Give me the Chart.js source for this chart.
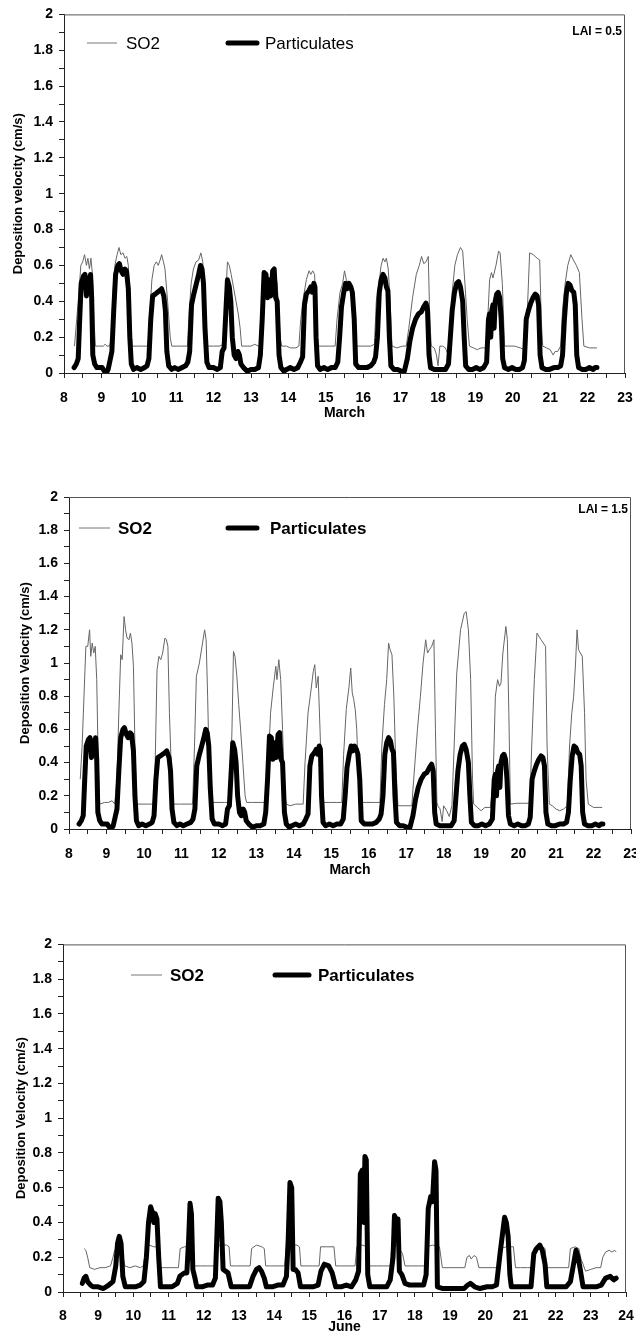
<!DOCTYPE html>
<html>
<head>
<meta charset="utf-8">
<script src="https://cdn.jsdelivr.net/npm/chart.js@4.4.1/dist/chart.umd.min.js"></script>
<style>
  html, body { margin: 0; padding: 0; background: #fff; overflow: hidden; }
  #page { position: relative; width: 636px; height: 1342px; }
  canvas { position: absolute; left: 0; }
</style>
</head>
<body>
<div id="page">
  <canvas id="marchLow" width="636" height="430" style="top:0px"></canvas>
  <canvas id="marchHigh" width="636" height="420" style="top:480px"></canvas>
  <canvas id="june" width="636" height="412" style="top:930px"></canvas>
</div>
<script>
// data: [day, deposition velocity cm/s]
const marchParticulates = [
  [8.27,0.03],[8.33,0.05],[8.38,0.08],[8.42,0.3],[8.46,0.5],[8.52,0.54],[8.56,0.55],[8.6,0.43],[8.64,0.53],[8.68,0.45],
  [8.71,0.55],[8.74,0.42],[8.77,0.1],[8.82,0.05],[8.88,0.03],[8.95,0.03],[9.02,0.03],[9.08,0.01],[9.13,0],[9.18,0.02],
  [9.24,0.08],[9.28,0.12],[9.33,0.35],[9.38,0.55],[9.44,0.6],[9.48,0.61],[9.53,0.57],[9.58,0.55],[9.63,0.58],[9.67,0.57],
  [9.72,0.47],[9.76,0.2],[9.8,0.05],[9.86,0.02],[9.95,0.03],[10.05,0.02],[10.15,0.03],[10.22,0.04],[10.27,0.08],[10.32,0.3],
  [10.37,0.43],[10.44,0.44],[10.5,0.45],[10.56,0.46],[10.61,0.47],[10.67,0.43],[10.71,0.35],[10.75,0.12],[10.8,0.04],[10.88,0.02],
  [10.96,0.03],[11.05,0.02],[11.15,0.03],[11.25,0.04],[11.31,0.06],[11.36,0.12],[11.41,0.38],[11.47,0.44],[11.53,0.49],[11.6,0.55],
  [11.65,0.6],[11.69,0.58],[11.73,0.5],[11.77,0.25],[11.82,0.06],[11.88,0.03],[12,0.03],[12.1,0.02],[12.18,0.03],[12.23,0.12],
  [12.28,0.14],[12.33,0.35],[12.37,0.52],[12.42,0.48],[12.46,0.4],[12.5,0.2],[12.55,0.1],[12.6,0.08],[12.65,0.12],[12.69,0.1],
  [12.73,0.05],[12.8,0.03],[12.9,0.01],[13,0.02],[13.1,0.02],[13.2,0.03],[13.25,0.1],[13.3,0.3],[13.35,0.56],[13.4,0.55],
  [13.44,0.42],[13.48,0.52],[13.53,0.43],[13.58,0.57],[13.62,0.58],[13.66,0.42],[13.7,0.4],[13.75,0.1],[13.8,0.03],[13.88,0.01],
  [13.95,0.02],[14.05,0.03],[14.15,0.02],[14.25,0.03],[14.32,0.06],[14.38,0.09],[14.43,0.38],[14.48,0.44],[14.55,0.46],[14.6,0.48],
  [14.64,0.45],[14.68,0.5],[14.71,0.48],[14.74,0.2],[14.78,0.04],[14.85,0.02],[14.95,0.03],[15.05,0.02],[15.15,0.03],[15.25,0.03],
  [15.32,0.06],[15.37,0.2],[15.42,0.37],[15.48,0.45],[15.53,0.5],[15.57,0.47],[15.62,0.5],[15.67,0.48],[15.71,0.45],[15.76,0.3],
  [15.8,0.05],[15.88,0.03],[16,0.03],[16.1,0.03],[16.2,0.04],[16.28,0.06],[16.33,0.09],[16.38,0.2],[16.43,0.45],[16.48,0.52],
  [16.53,0.55],[16.58,0.53],[16.62,0.48],[16.66,0.46],[16.7,0.2],[16.74,0.04],[16.82,0.02],[16.92,0.02],[17.02,0.01],[17.1,0.01],
  [17.18,0.08],[17.25,0.18],[17.32,0.25],[17.4,0.3],[17.48,0.33],[17.55,0.34],[17.62,0.37],[17.68,0.39],[17.72,0.35],[17.76,0.1],
  [17.8,0.03],[17.9,0.02],[18,0.02],[18.1,0.02],[18.2,0.02],[18.28,0.05],[18.33,0.2],[18.38,0.35],[18.44,0.45],[18.5,0.5],
  [18.55,0.51],[18.6,0.48],[18.66,0.4],[18.7,0.2],[18.74,0.04],[18.82,0.02],[18.92,0.02],[19.02,0.03],[19.12,0.02],[19.22,0.03],
  [19.3,0.06],[19.35,0.3],[19.38,0.33],[19.41,0.2],[19.44,0.35],[19.47,0.38],[19.5,0.25],[19.53,0.4],[19.57,0.44],[19.61,0.45],
  [19.65,0.42],[19.69,0.3],[19.73,0.08],[19.78,0.03],[19.88,0.02],[19.98,0.03],[20.08,0.02],[20.18,0.02],[20.26,0.03],[20.31,0.07],
  [20.36,0.3],[20.42,0.35],[20.48,0.39],[20.54,0.42],[20.6,0.44],[20.65,0.43],[20.69,0.38],[20.73,0.1],[20.78,0.03],[20.88,0.02],
  [20.98,0.02],[21.1,0.03],[21.2,0.03],[21.28,0.04],[21.33,0.1],[21.38,0.3],[21.43,0.44],[21.48,0.5],[21.53,0.49],[21.58,0.46],
  [21.63,0.45],[21.67,0.38],[21.71,0.1],[21.76,0.03],[21.85,0.02],[21.95,0.02],[22.05,0.03],[22.15,0.02],[22.2,0.03],[22.25,0.03]
];

const marchSo2Lai05 = [
  [8.28,0.15],[8.34,0.3],[8.4,0.45],[8.45,0.6],[8.5,0.62],[8.55,0.66],[8.6,0.6],[8.64,0.64],[8.68,0.58],[8.72,0.64],
  [8.76,0.55],[8.8,0.3],[8.84,0.15],[8.95,0.15],[9.05,0.15],[9.1,0.16],[9.15,0.15],[9.22,0.15],[9.27,0.2],[9.31,0.45],
  [9.36,0.6],[9.42,0.66],[9.47,0.7],[9.52,0.66],[9.58,0.67],[9.63,0.64],[9.68,0.65],[9.72,0.6],[9.77,0.35],[9.82,0.15],
  [9.95,0.15],[10.1,0.15],[10.25,0.15],[10.3,0.35],[10.35,0.52],[10.41,0.6],[10.47,0.62],[10.52,0.6],[10.57,0.63],[10.61,0.66],
  [10.66,0.62],[10.7,0.58],[10.77,0.4],[10.84,0.2],[10.88,0.15],[11,0.15],[11.15,0.15],[11.3,0.15],[11.35,0.35],[11.4,0.5],
  [11.46,0.58],[11.53,0.62],[11.6,0.63],[11.66,0.67],[11.71,0.62],[11.75,0.5],[11.8,0.2],[11.84,0.15],[12,0.15],[12.15,0.15],
  [12.28,0.16],[12.33,0.45],[12.37,0.62],[12.42,0.6],[12.47,0.55],[12.53,0.48],[12.6,0.4],[12.66,0.33],[12.71,0.25],[12.75,0.15],
  [12.9,0.15],[13,0.15],[13.1,0.16],[13.2,0.15],[13.28,0.16],[13.33,0.45],[13.38,0.57],[13.5,0.5],[13.62,0.57],[13.7,0.5],
  [13.78,0.2],[13.82,0.15],[13.95,0.15],[14.05,0.14],[14.2,0.14],[14.28,0.15],[14.33,0.3],[14.4,0.42],[14.48,0.52],[14.55,0.57],
  [14.6,0.55],[14.65,0.57],[14.7,0.55],[14.74,0.35],[14.78,0.15],[14.9,0.15],[15.1,0.15],[15.25,0.15],[15.3,0.3],[15.38,0.45],
  [15.45,0.5],[15.5,0.57],[15.55,0.52],[15.6,0.5],[15.66,0.5],[15.72,0.45],[15.76,0.25],[15.8,0.15],[16,0.15],[16.2,0.15],
  [16.3,0.16],[16.35,0.4],[16.42,0.5],[16.48,0.6],[16.53,0.64],[16.58,0.62],[16.62,0.64],[16.67,0.58],[16.72,0.4],[16.77,0.15],
  [16.9,0.14],[17.05,0.15],[17.15,0.15],[17.22,0.25],[17.32,0.42],[17.42,0.55],[17.5,0.6],[17.56,0.65],[17.62,0.61],[17.68,0.62],
  [17.74,0.65],[17.78,0.3],[17.82,0.15],[17.9,0.14],[17.96,0.1],[18,0.04],[18.05,0.15],[18.12,0.15],[18.2,0.14],[18.27,0.1],
  [18.32,0.15],[18.38,0.45],[18.45,0.6],[18.52,0.66],[18.6,0.7],[18.66,0.68],[18.72,0.5],[18.78,0.3],[18.84,0.15],[18.95,0.14],
  [19.05,0.13],[19.15,0.14],[19.28,0.14],[19.33,0.3],[19.38,0.52],[19.43,0.56],[19.47,0.53],[19.55,0.6],[19.62,0.68],[19.66,0.67],
  [19.72,0.5],[19.78,0.15],[19.9,0.15],[20.05,0.15],[20.2,0.14],[20.3,0.13],[20.38,0.3],[20.45,0.67],[20.55,0.66],[20.65,0.64],
  [20.72,0.63],[20.76,0.3],[20.8,0.15],[20.9,0.14],[21,0.13],[21.08,0.1],[21.13,0.12],[21.2,0.12],[21.28,0.15],[21.33,0.35],
  [21.4,0.5],[21.47,0.6],[21.55,0.66],[21.62,0.63],[21.7,0.6],[21.78,0.56],[21.85,0.3],[21.9,0.15],[22.05,0.14],[22.25,0.14]
];

const marchSo2Lai15 = [
  [8.3,0.3],[8.35,0.5],[8.4,0.8],[8.45,1.1],[8.5,1.1],[8.55,1.2],[8.58,1.04],[8.62,1.12],[8.66,1.06],[8.7,1.1],
  [8.74,0.9],[8.78,0.4],[8.82,0.15],[8.95,0.16],[9.05,0.16],[9.15,0.17],[9.22,0.15],[9.28,0.3],[9.33,0.7],[9.38,1.05],
  [9.42,1.02],[9.47,1.28],[9.51,1.2],[9.55,1.15],[9.6,1.14],[9.64,1.18],[9.68,1.12],[9.72,0.98],[9.76,0.5],[9.8,0.15],
  [9.95,0.15],[10.1,0.15],[10.25,0.15],[10.3,0.4],[10.35,0.96],[10.4,1.04],[10.45,1.02],[10.5,1.06],[10.56,1.15],[10.6,1.14],
  [10.64,1.1],[10.68,0.7],[10.74,0.3],[10.78,0.15],[10.95,0.15],[11.15,0.15],[11.3,0.15],[11.35,0.5],[11.4,0.92],[11.48,1],
  [11.55,1.1],[11.62,1.2],[11.66,1.14],[11.7,0.8],[11.75,0.3],[11.79,0.16],[11.95,0.16],[12.15,0.16],[12.3,0.16],[12.35,0.6],
  [12.39,1.07],[12.43,1.04],[12.48,0.92],[12.53,0.75],[12.58,0.6],[12.64,0.4],[12.7,0.2],[12.74,0.16],[12.9,0.16],[13.1,0.16],
  [13.27,0.16],[13.32,0.4],[13.38,0.7],[13.45,0.85],[13.52,0.98],[13.55,0.9],[13.6,1.02],[13.65,0.9],[13.7,0.6],[13.76,0.2],
  [13.8,0.15],[13.9,0.14],[14.05,0.15],[14.25,0.15],[14.3,0.4],[14.38,0.7],[14.45,0.82],[14.52,0.95],[14.56,0.99],[14.6,0.85],
  [14.65,0.92],[14.7,0.6],[14.74,0.3],[14.78,0.16],[14.95,0.16],[15.15,0.16],[15.28,0.16],[15.33,0.45],[15.4,0.72],[15.47,0.85],
  [15.52,0.97],[15.56,0.82],[15.6,0.78],[15.64,0.72],[15.68,0.6],[15.73,0.3],[15.78,0.16],[15.95,0.16],[16.15,0.16],[16.3,0.16],
  [16.35,0.5],[16.42,0.75],[16.48,0.9],[16.53,1.12],[16.57,1.08],[16.62,1.05],[16.67,0.8],[16.72,0.4],[16.78,0.14],[16.95,0.14],
  [17.15,0.14],[17.2,0.3],[17.3,0.6],[17.38,0.8],[17.45,1],[17.52,1.14],[17.57,1.06],[17.62,1.08],[17.68,1.1],[17.74,1.14],
  [17.78,0.6],[17.82,0.16],[17.86,0.13],[17.9,0.125],[17.96,0.045],[18,0.14],[18.08,0.11],[18.15,0.075],[18.22,0.14],[18.28,0.5],
  [18.35,0.94],[18.45,1.2],[18.55,1.3],[18.6,1.31],[18.66,1.2],[18.72,0.9],[18.77,0.3],[18.8,0.15],[18.9,0.13],[19,0.11],
  [19.1,0.13],[19.25,0.13],[19.32,0.3],[19.38,0.8],[19.44,0.9],[19.49,0.86],[19.53,0.88],[19.58,1.06],[19.66,1.22],[19.7,1.14],
  [19.74,0.7],[19.78,0.15],[19.95,0.155],[20.15,0.155],[20.3,0.155],[20.35,0.5],[20.42,0.9],[20.49,1.18],[20.6,1.14],[20.72,1.1],
  [20.76,0.5],[20.82,0.15],[20.9,0.14],[21,0.12],[21.1,0.11],[21.2,0.12],[21.3,0.14],[21.36,0.5],[21.42,0.7],[21.47,0.8],
  [21.52,1],[21.56,1.2],[21.6,1.08],[21.7,1.04],[21.76,0.7],[21.8,0.3],[21.86,0.15],[22,0.13],[22.15,0.13],[22.23,0.13]
];

const juneParticulates = [
  [8.55,0.05],[8.6,0.08],[8.65,0.09],[8.7,0.06],[8.78,0.04],[8.85,0.03],[9,0.03],[9.15,0.02],[9.3,0.04],[9.42,0.06],
  [9.5,0.15],[9.55,0.28],[9.6,0.32],[9.65,0.28],[9.7,0.09],[9.77,0.03],[9.9,0.03],[10.05,0.03],[10.2,0.04],[10.3,0.06],
  [10.37,0.2],[10.43,0.4],[10.49,0.49],[10.54,0.46],[10.58,0.4],[10.62,0.45],[10.67,0.42],[10.72,0.2],[10.77,0.03],[10.9,0.03],
  [11.1,0.03],[11.25,0.05],[11.32,0.09],[11.45,0.11],[11.52,0.11],[11.57,0.3],[11.61,0.51],[11.65,0.45],[11.69,0.13],[11.75,0.08],
  [11.8,0.03],[11.95,0.03],[12.1,0.04],[12.25,0.04],[12.33,0.08],[12.37,0.3],[12.41,0.54],[12.46,0.52],[12.5,0.4],[12.55,0.13],
  [12.62,0.12],[12.69,0.11],[12.78,0.03],[12.9,0.03],[13.1,0.03],[13.3,0.03],[13.4,0.09],[13.5,0.13],[13.57,0.14],[13.64,0.12],
  [13.72,0.08],[13.78,0.03],[13.95,0.03],[14.1,0.04],[14.25,0.04],[14.35,0.09],[14.4,0.3],[14.45,0.63],[14.5,0.6],[14.54,0.13],
  [14.6,0.13],[14.68,0.11],[14.75,0.03],[14.9,0.03],[15.1,0.03],[15.25,0.04],[15.33,0.12],[15.43,0.16],[15.55,0.15],[15.65,0.11],
  [15.75,0.03],[15.9,0.03],[16.05,0.04],[16.2,0.03],[16.32,0.07],[16.4,0.12],[16.45,0.68],[16.5,0.7],[16.55,0.4],[16.58,0.78],
  [16.62,0.76],[16.66,0.1],[16.72,0.03],[16.85,0.03],[17.05,0.03],[17.2,0.03],[17.3,0.07],[17.38,0.2],[17.42,0.44],[17.47,0.42],
  [17.52,0.42],[17.56,0.12],[17.63,0.1],[17.72,0.05],[17.85,0.04],[18.05,0.04],[18.25,0.04],[18.32,0.1],[18.38,0.48],[18.45,0.55],
  [18.5,0.52],[18.56,0.75],[18.6,0.7],[18.64,0.03],[18.8,0.02],[19,0.02],[19.2,0.02],[19.4,0.02],[19.5,0.04],[19.58,0.05],
  [19.7,0.03],[19.85,0.02],[20.05,0.03],[20.2,0.03],[20.32,0.04],[20.42,0.22],[20.5,0.35],[20.55,0.43],[20.6,0.4],[20.65,0.32],
  [20.7,0.1],[20.74,0.03],[20.9,0.03],[21.1,0.03],[21.3,0.03],[21.38,0.22],[21.46,0.25],[21.55,0.27],[21.62,0.24],[21.7,0.16],
  [21.75,0.03],[21.9,0.03],[22.1,0.03],[22.3,0.03],[22.42,0.06],[22.5,0.15],[22.58,0.24],[22.64,0.2],[22.7,0.13],[22.78,0.03],
  [22.95,0.03],[23.15,0.03],[23.3,0.04],[23.42,0.08],[23.55,0.09],[23.65,0.07],[23.72,0.08]
];

const juneSo2 = [
  [8.6,0.25],[8.65,0.24],[8.7,0.2],[8.76,0.14],[8.9,0.13],[9.05,0.14],[9.2,0.14],[9.35,0.15],[9.42,0.2],[9.47,0.24],
  [9.55,0.23],[9.68,0.22],[9.76,0.15],[9.9,0.14],[10.05,0.15],[10.2,0.14],[10.28,0.15],[10.35,0.24],[10.45,0.27],[10.58,0.26],
  [10.68,0.26],[10.75,0.14],[10.9,0.14],[11.1,0.14],[11.28,0.14],[11.33,0.25],[11.45,0.26],[11.6,0.26],[11.68,0.26],[11.72,0.15],
  [11.9,0.15],[12.1,0.15],[12.3,0.15],[12.35,0.26],[12.5,0.27],[12.65,0.27],[12.72,0.26],[12.76,0.15],[12.9,0.15],[13.1,0.15],
  [13.32,0.15],[13.36,0.25],[13.5,0.27],[13.65,0.26],[13.72,0.25],[13.76,0.15],[13.9,0.15],[14.1,0.15],[14.3,0.15],[14.35,0.26],
  [14.5,0.27],[14.65,0.27],[14.72,0.26],[14.76,0.15],[14.9,0.15],[15.1,0.15],[15.28,0.15],[15.32,0.26],[15.5,0.26],[15.7,0.26],
  [15.75,0.15],[15.9,0.15],[16.1,0.15],[16.3,0.15],[16.35,0.26],[16.5,0.27],[16.65,0.26],[16.7,0.15],[16.9,0.15],[17.1,0.15],
  [17.3,0.15],[17.34,0.26],[17.5,0.27],[17.65,0.22],[17.72,0.15],[17.9,0.15],[18.1,0.15],[18.3,0.15],[18.34,0.26],[18.5,0.27],
  [18.7,0.26],[18.78,0.14],[19,0.14],[19.2,0.14],[19.42,0.14],[19.48,0.2],[19.55,0.21],[19.6,0.19],[19.68,0.21],[19.75,0.2],
  [19.82,0.14],[20,0.14],[20.2,0.14],[20.38,0.14],[20.42,0.25],[20.6,0.26],[20.8,0.26],[20.86,0.14],[21,0.14],[21.2,0.14],
  [21.34,0.14],[21.38,0.25],[21.55,0.27],[21.7,0.25],[21.75,0.14],[21.95,0.14],[22.15,0.14],[22.37,0.14],[22.42,0.25],[22.55,0.26],
  [22.66,0.25],[22.72,0.19],[22.78,0.16],[22.85,0.12],[23,0.13],[23.15,0.14],[23.28,0.14],[23.34,0.2],[23.42,0.23],[23.52,0.24],
  [23.6,0.23],[23.68,0.24],[23.72,0.23]
];

const seriesLabels = ['SO2', 'Particulates'];
const monthLabels = ['March', 'March', 'June'];
const laiLabels = ['LAI = 0.5', 'LAI = 1.5', null];

const FONT = '"Liberation Sans", Arial, sans-serif';

// frame round the plot, legend and LAI note drawn inside the plot
const panelDecor = {
  id: 'panelDecor',
  beforeDatasetsDraw(chart) {
    const a = chart.chartArea, ctx = chart.ctx;
    ctx.save();
    ctx.strokeStyle = '#555';
    ctx.lineWidth = 1;
    ctx.beginPath();
    ctx.moveTo(a.left, a.top + 0.5);
    ctx.lineTo(a.right - 0.5, a.top + 0.5);
    ctx.lineTo(a.right - 0.5, a.bottom);
    ctx.stroke();
    ctx.restore();
  },
  afterDraw(chart, args, opts) {
    const ctx = chart.ctx, ds = chart.data.datasets;
    ctx.save();
    ctx.textBaseline = 'middle';
    ctx.fillStyle = '#000';
    ctx.font = opts.weight + ' 17px ' + FONT;
    // SO2 entry
    ctx.strokeStyle = '#777';
    ctx.lineWidth = 1;
    ctx.beginPath();
    ctx.moveTo(opts.so2[0], opts.y);
    ctx.lineTo(opts.so2[1], opts.y);
    ctx.stroke();
    ctx.fillText(ds[1].label, opts.so2[2], opts.y + 1);
    // particulates entry
    ctx.strokeStyle = '#000';
    ctx.lineWidth = 5;
    ctx.lineCap = 'round';
    ctx.beginPath();
    ctx.moveTo(opts.part[0], opts.y);
    ctx.lineTo(opts.part[1], opts.y);
    ctx.stroke();
    ctx.fillText(ds[0].label, opts.part[2], opts.y + 1);
    if (opts.lai) {
      ctx.font = 'bold 12px ' + FONT;
      ctx.textAlign = 'right';
      ctx.fillText(opts.lai, chart.chartArea.right - 3, opts.laiY);
    }
    ctx.restore();
  }
};

function makePanel(id, so2, part, xMax, month, yTitle, box, legend) {
  const tickFont = { family: FONT, size: 14, weight: 'bold' };
  return new Chart(document.getElementById(id), {
    type: 'line',
    data: {
      datasets: [
        {
          label: seriesLabels[1],
          data: part.map(p => ({ x: p[0], y: p[1] })),
          borderColor: '#000',
          borderWidth: 5,
          borderJoinStyle: 'round',
          borderCapStyle: 'round',
          pointRadius: 0,
          tension: 0,
          order: 0
        },
        {
          label: seriesLabels[0],
          data: so2.map(p => ({ x: p[0], y: p[1] })),
          borderColor: '#666',
          borderWidth: 1,
          pointRadius: 0,
          tension: 0,
          order: 1
        }
      ]
    },
    plugins: [panelDecor],
    options: {
      responsive: false,
      animation: false,
      devicePixelRatio: 1,
      layout: { padding: { top: box.top, right: box.right, left: 0, bottom: 0 } },
      plugins: {
        legend: { display: false },
        tooltip: { enabled: false },
        panelDecor: legend
      },
      scales: {
        x: {
          type: 'linear',
          min: 8,
          max: xMax,
          afterFit: s => { s.height = box.xh; s.paddingLeft = 0; s.paddingRight = 0; },
          border: { color: '#222', width: 1 },
          grid: { drawOnChartArea: false, tickLength: 5, color: '#222' },
          ticks: {
            stepSize: 0.5,
            autoSkip: false,
            maxRotation: 0,
            padding: box.xpad,
            color: '#000',
            font: tickFont,
            callback: v => Number.isInteger(v) ? String(v) : ''
          },
          title: {
            display: true,
            text: month,
            color: '#000',
            font: { family: FONT, size: 14, weight: 'bold' },
            padding: { top: 0, bottom: box.tpad }
          }
        },
        y: {
          min: 0,
          max: 2,
          afterFit: s => { s.width = box.left; },
          border: { color: '#222', width: 1 },
          grid: { drawOnChartArea: false, tickLength: 5, color: '#222' },
          ticks: {
            stepSize: 0.1,
            autoSkip: false,
            padding: 6,
            color: '#000',
            font: tickFont,
            callback: v => Math.round(v * 10) % 2 === 0 ? String(Math.round(v * 10) / 10) : ''
          },
          title: {
            display: true,
            text: yTitle,
            color: '#000',
            font: { family: FONT, size: 13, weight: 'bold' },
            padding: { top: box.ytpad, bottom: 0 }
          }
        }
      }
    }
  });
}

makePanel('marchLow', marchSo2Lai05, marchParticulates, 23, monthLabels[0], 'Deposition velocity (cm/s)',
  { top: 14, right: 11, left: 64, xh: 57, xpad: 12, tpad: 8, ytpad: 11 },
  { weight: 'normal', y: 43, so2: [87, 117, 126], part: [228, 257, 265], lai: laiLabels[0], laiY: 32 });

makePanel('marchHigh', marchSo2Lai15, marchParticulates, 23, monthLabels[1], 'Deposition Velocity (cm/s)',
  { top: 17, right: 5, left: 69, xh: 71, xpad: 12, tpad: 21, ytpad: 18 },
  { weight: 'bold', y: 48, so2: [79, 110, 118], part: [228, 257, 270], lai: laiLabels[1], laiY: 30 });

makePanel('june', juneSo2, juneParticulates, 24, monthLabels[2], 'Deposition Velocity (cm/s)',
  { top: 14, right: 10, left: 63, xh: 50, xpad: 11, tpad: 6, ytpad: 14 },
  { weight: 'bold', y: 45, so2: [131, 162, 170], part: [275, 309, 318], lai: laiLabels[2], laiY: 30 });
</script>
</body>
</html>
